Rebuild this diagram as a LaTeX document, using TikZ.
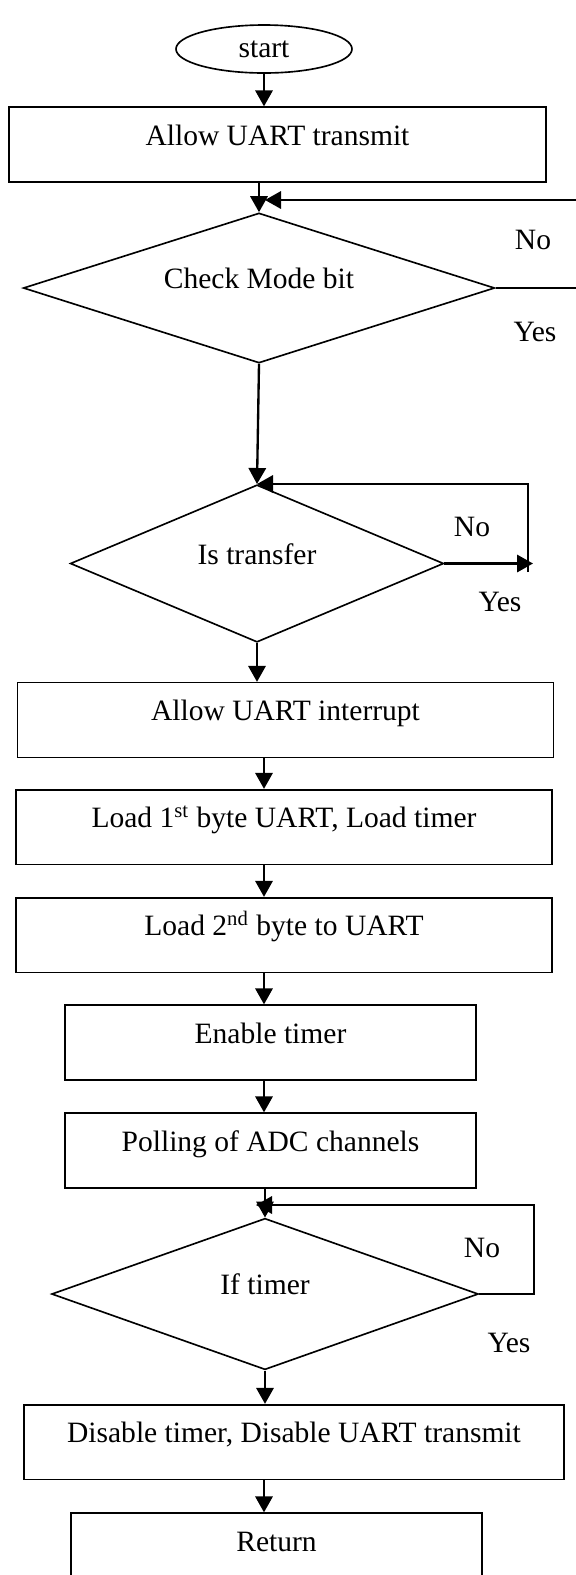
\documentclass[tikz,border=0pt]{standalone}
\usepackage{fontspec}
\setmainfont{Liberation Serif}
\usetikzlibrary{shapes.geometric, arrows.meta, positioning}

\begin{document}
\begin{tikzpicture}[
    x=0.015cm, y=-0.015cm,
    font=\fontsize{12.6}{14}\selectfont,
    terminator/.style={ellipse, draw, line width=0.7pt, minimum width=2.64cm, minimum height=0.72cm, inner sep=0pt},
    process/.style={rectangle, draw, line width=0.7pt, minimum width=#1, minimum height=1.12cm, text height=0.3cm, text depth=0.28cm, inner sep=0pt},
    process/.default=8.04cm,
    decision/.style={diamond, draw, line width=0.7pt, aspect=3, inner sep=0pt, text height=0.3cm, text depth=0.28cm},
    arrow/.style={-{Triangle[length=0.24cm, width=0.26cm]}, line width=1pt}
]

\useasboundingbox (0,0) rectangle (576,1575);
\clip (0,0) rectangle (576,1575);

\node[terminator] (start) at (264,49) {start};
\node[process=8.06cm] (allowtx) at (277.5,144.5) {Allow UART transmit};
\node[decision, minimum width=7.07cm, minimum height=2.25cm] (mode) at (259,288) {Check Mode bit};
\node[decision, minimum width=5.6cm, minimum height=2.36cm] (transfer) at (257,563.5) {Is transfer};
\node[process] (allowint) at (285.5,720) {Allow UART interrupt};
\node[process] (load1) at (284,827) {Load 1\textsuperscript{st} byte UART, Load timer};
\node[process] (load2) at (284,935) {Load 2\textsuperscript{nd} byte to UART};
\node[process=6.17cm] (entimer) at (270.5,1042.5) {Enable timer};
\node[process=6.17cm] (polling) at (270.5,1150.5) {Polling of ADC channels};
\node[decision, minimum width=6.4cm, minimum height=2.27cm] (iftimer) at (265,1294) {If timer};
\node[process=8.1cm] (disable) at (294,1442) {Disable timer, Disable UART transmit};
\node[process=6.17cm] (return) at (276.5,1550.5) {Return};

% branch labels
\node (no1) at (533,240) {No};
\node (yes1) at (535,332) {Yes};
\node (no2) at (472,527) {No};
\node (yes2) at (500,602) {Yes};
\node (no3) at (482,1248) {No};
\node (yes3) at (509,1343) {Yes};

% helper points for the loops
\coordinate (trunk) at (264,0);
\coordinate (loop1) at (600,288);
\coordinate (join1) at (265,200);
\coordinate (yes2end) at (533,563.5);
\coordinate (loop2) at (528,572);
\coordinate (loop3) at (534,1294);
\coordinate (join3) at (256,1205);

\draw[arrow] (start.south) -- (start.south |- allowtx.north);
\draw[arrow] (allowtx.south -| mode.north) -- (mode.north);
\draw[arrow] (mode.east) -- (loop1) |- (join1);

\draw[arrow] (mode.south) -- (transfer.north);
\draw[arrow] (transfer.east) -- (yes2end);
\draw[arrow] (loop2) |- (transfer.north);

\draw[arrow] (transfer.south) -- (transfer.south |- allowint.north);
\draw[arrow] (allowint.south -| trunk) -- (load1.north -| trunk);
\draw[arrow] (load1.south -| trunk) -- (load2.north -| trunk);
\draw[arrow] (load2.south -| trunk) -- (entimer.north -| trunk);
\draw[arrow] (entimer.south -| trunk) -- (polling.north -| trunk);
\draw[arrow] (polling.south -| iftimer.north) -- (iftimer.north);

\draw[arrow] (iftimer.east) -- (loop3) |- (join3);
\draw[arrow] (iftimer.south) -- (iftimer.south |- disable.north);
\draw[arrow] (disable.south -| trunk) -- (return.north -| trunk);

\end{tikzpicture}
\end{document}
